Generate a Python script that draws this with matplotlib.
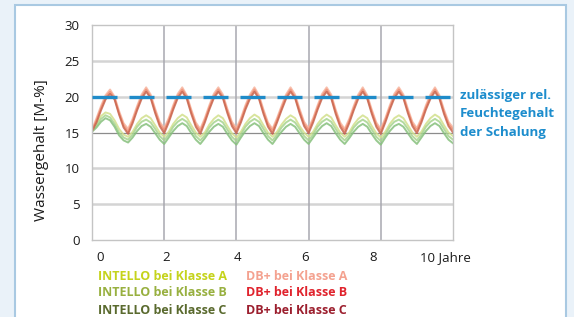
import numpy as np
import matplotlib
matplotlib.use("Agg")
import matplotlib.pyplot as plt
from matplotlib.patches import Rectangle

plt.rcParams['font.family'] = ['Open Sans', 'DejaVu Sans']

# time axis in years (8 samples per year)
years = np.linspace(0, 10, 81)

db_a = [15.4, 17.0, 18.7, 20.2, 21.0, 20.0, 18.0, 16.3, 15.5,
        16.9, 18.7, 20.3, 21.3, 20.3, 18.3, 16.5, 15.6,
        17.0, 18.8, 20.4, 21.3, 20.2, 18.2, 16.4, 15.5,
        17.0, 18.8, 20.4, 21.3, 20.3, 18.3, 16.5, 15.6,
        17.0, 18.8, 20.3, 21.3, 20.2, 18.2, 16.4, 15.5,
        17.0, 18.7, 20.3, 21.3, 20.3, 18.3, 16.5, 15.6,
        17.0, 18.8, 20.4, 21.3, 20.3, 18.2, 16.4, 15.5,
        16.9, 18.7, 20.3, 21.3, 20.2, 18.2, 16.4, 15.5,
        17.0, 18.8, 20.4, 21.3, 20.3, 18.3, 16.5, 15.6,
        17.0, 18.8, 20.3, 21.3, 20.2, 18.2, 16.5, 15.7]
db_b = [15.3, 16.7, 18.4, 19.9, 20.7, 19.8, 17.7, 16.0, 15.1,
        16.6, 18.4, 20.0, 21.0, 20.0, 18.0, 16.2, 15.3,
        16.7, 18.5, 20.1, 21.0, 20.0, 17.9, 16.1, 15.2,
        16.7, 18.5, 20.1, 21.0, 20.0, 18.0, 16.2, 15.3,
        16.7, 18.5, 20.0, 21.0, 19.9, 17.9, 16.1, 15.2,
        16.7, 18.4, 20.0, 21.0, 20.0, 18.0, 16.2, 15.3,
        16.7, 18.5, 20.1, 21.0, 20.0, 17.9, 16.1, 15.2,
        16.6, 18.4, 20.0, 21.0, 19.9, 17.9, 16.1, 15.2,
        16.7, 18.5, 20.1, 21.0, 20.0, 18.0, 16.2, 15.3,
        16.7, 18.5, 20.0, 21.0, 19.9, 17.9, 16.2, 15.4]
db_c = [15.2, 16.4, 18.1, 19.6, 20.4, 19.6, 17.5, 15.7, 14.8,
        16.3, 18.1, 19.7, 20.7, 19.8, 17.7, 15.9, 14.9,
        16.4, 18.2, 19.8, 20.7, 19.7, 17.6, 15.8, 14.8,
        16.4, 18.2, 19.8, 20.7, 19.8, 17.7, 15.9, 14.9,
        16.4, 18.2, 19.7, 20.7, 19.7, 17.6, 15.8, 14.8,
        16.4, 18.1, 19.7, 20.7, 19.8, 17.7, 15.9, 14.9,
        16.4, 18.2, 19.8, 20.7, 19.8, 17.6, 15.8, 14.8,
        16.3, 18.1, 19.7, 20.7, 19.7, 17.6, 15.8, 14.8,
        16.4, 18.2, 19.8, 20.7, 19.8, 17.7, 15.9, 14.9,
        16.4, 18.2, 19.7, 20.7, 19.7, 17.6, 15.9, 15.0]

in_a = [15.3, 16.3, 17.3, 17.8, 17.6, 16.7, 15.5, 14.7, 14.4,
        15.1, 16.2, 17.0, 17.4, 17.0, 16.0, 15.0, 14.4,
        15.1, 16.2, 17.0, 17.5, 17.1, 16.0, 15.0, 14.4,
        15.0, 16.1, 16.9, 17.4, 17.0, 15.9, 14.9, 14.3,
        15.1, 16.2, 17.0, 17.5, 17.1, 16.0, 15.0, 14.4,
        15.1, 16.1, 16.9, 17.4, 17.0, 15.9, 15.0, 14.4,
        15.1, 16.2, 17.0, 17.5, 17.1, 16.0, 15.0, 14.4,
        15.0, 16.1, 16.9, 17.4, 17.0, 15.9, 14.9, 14.3,
        15.1, 16.2, 17.0, 17.4, 17.0, 16.0, 15.0, 14.4,
        15.1, 16.2, 17.0, 17.5, 17.1, 16.0, 15.0, 14.5]
in_b = [15.2, 16.0, 16.9, 17.4, 17.1, 16.2, 15.0, 14.3, 14.0,
        14.7, 15.8, 16.5, 16.8, 16.4, 15.5, 14.5, 13.9,
        14.7, 15.8, 16.5, 16.9, 16.5, 15.5, 14.5, 13.9,
        14.6, 15.7, 16.4, 16.8, 16.4, 15.4, 14.4, 13.8,
        14.7, 15.8, 16.5, 16.9, 16.5, 15.5, 14.5, 13.9,
        14.7, 15.7, 16.4, 16.8, 16.4, 15.5, 14.5, 13.9,
        14.7, 15.8, 16.5, 16.9, 16.5, 15.5, 14.5, 13.9,
        14.6, 15.7, 16.4, 16.8, 16.4, 15.4, 14.4, 13.8,
        14.7, 15.8, 16.5, 16.8, 16.4, 15.5, 14.5, 13.9,
        14.7, 15.8, 16.5, 16.9, 16.5, 15.5, 14.5, 14.0]
in_c = [15.1, 15.7, 16.5, 17.0, 16.7, 15.8, 14.6, 13.9, 13.6,
        14.3, 15.2, 15.9, 16.2, 15.8, 14.9, 14.0, 13.4,
        14.3, 15.2, 15.9, 16.3, 15.9, 14.9, 14.0, 13.4,
        14.2, 15.1, 15.8, 16.2, 15.8, 14.8, 13.9, 13.3,
        14.3, 15.2, 15.9, 16.3, 15.9, 14.9, 14.0, 13.4,
        14.3, 15.1, 15.8, 16.2, 15.8, 14.9, 14.0, 13.4,
        14.3, 15.2, 15.9, 16.3, 15.9, 14.9, 14.0, 13.4,
        14.2, 15.1, 15.8, 16.2, 15.8, 14.8, 13.9, 13.3,
        14.3, 15.2, 15.9, 16.2, 15.8, 14.9, 14.0, 13.4,
        14.3, 15.2, 15.9, 16.3, 15.9, 14.9, 14.0, 13.5]

limit_value = 20
x_tick_labels = ['0', '2', '4', '6', '8', '10 Jahre']
y_ticks = [0, 5, 10, 15, 20, 25, 30]

series_labels = ['INTELLO bei Klasse A', 'INTELLO bei Klasse B', 'INTELLO bei Klasse C',
                 'DB+ bei Klasse A', 'DB+ bei Klasse B', 'DB+ bei Klasse C']
label_colors = ['#c5d31c', '#98b040', '#5a6a2e', '#f4a290', '#e0232d', '#9c1f2e']
line_colors = ['#d2e08c', '#a6d48e', '#86c07c', '#f7b49e', '#ef8f74', '#c8654e']
annotation_lines = ['zulässiger rel.', 'Feuchtegehalt', 'der Schalung']

W, H = 574, 317
fig = plt.figure(figsize=(W / 100, H / 100), dpi=100, facecolor='#eaf2f9')
# white panel
fig.patches.append(Rectangle((15 / W, -0.05), (566 - 15) / W, 1.05 - 5 / H,
                             transform=fig.transFigure, facecolor='white',
                             edgecolor='#a9c9e2', lw=1.5, zorder=-5))

ax = fig.add_axes([92 / W, 77 / H, 361 / W, 215 / H])
ax.set_zorder(1)
ax.set_xlim(0, 10)
ax.set_ylim(0, 30)
for s in ax.spines.values():
    s.set_color('#c4c4c4')
    s.set_linewidth(1.0)

for y in [5, 10, 20, 25]:
    ax.axhline(y, color='#d4d4d4', lw=1.8, zorder=1)
ax.axhline(15, color='#8c8c8c', lw=0.9, zorder=1)
for x in [2, 4, 6, 8]:
    ax.axvline(x, color='#a8a8b0', lw=1.1, zorder=1)

series = [in_a, in_b, in_c, db_a, db_b, db_c]
for vals, c in zip(series, line_colors):
    ax.plot(years, vals, color=c, lw=1.4, alpha=0.85, zorder=2)

ax.axhline(limit_value, color='#1f8bc9', lw=2.4, dashes=(7.5, 3.6), zorder=3)

# tick labels sit slightly apart from the grid in the original
ax.set_xticks([0.22, 2.05, 4.04, 5.9, 7.78, 9.8])
ax.set_xticklabels(x_tick_labels)
ax.set_yticks(y_ticks)
ax.tick_params(length=0, labelsize=9.5, colors='#1a1a1a', pad=9)
ax.tick_params(axis='x', pad=8)
ax.set_ylabel('Wassergehalt [M-%]', fontsize=11, color='#1a1a1a')
ax.yaxis.set_label_coords(-0.118, 0.42)

# legend text
col_x = [98 / W, 246 / W]
row_y = [1 - 277 / H, 1 - 293 / H, 1 - 310 / H]
for i, (lab, c) in enumerate(zip(series_labels, label_colors)):
    fig.text(col_x[i // 3], row_y[i % 3], lab, color=c, fontsize=9,
             fontweight='bold', va='center', ha='left')

for i, line in enumerate(annotation_lines):
    fig.text(460 / W, 1 - (95 + 18.5 * i) / H, line, color='#1d8dcd',
             fontsize=9.5, fontweight='bold', va='center', ha='left')

fig.savefig('out.png', dpi=100, facecolor=fig.get_facecolor())
